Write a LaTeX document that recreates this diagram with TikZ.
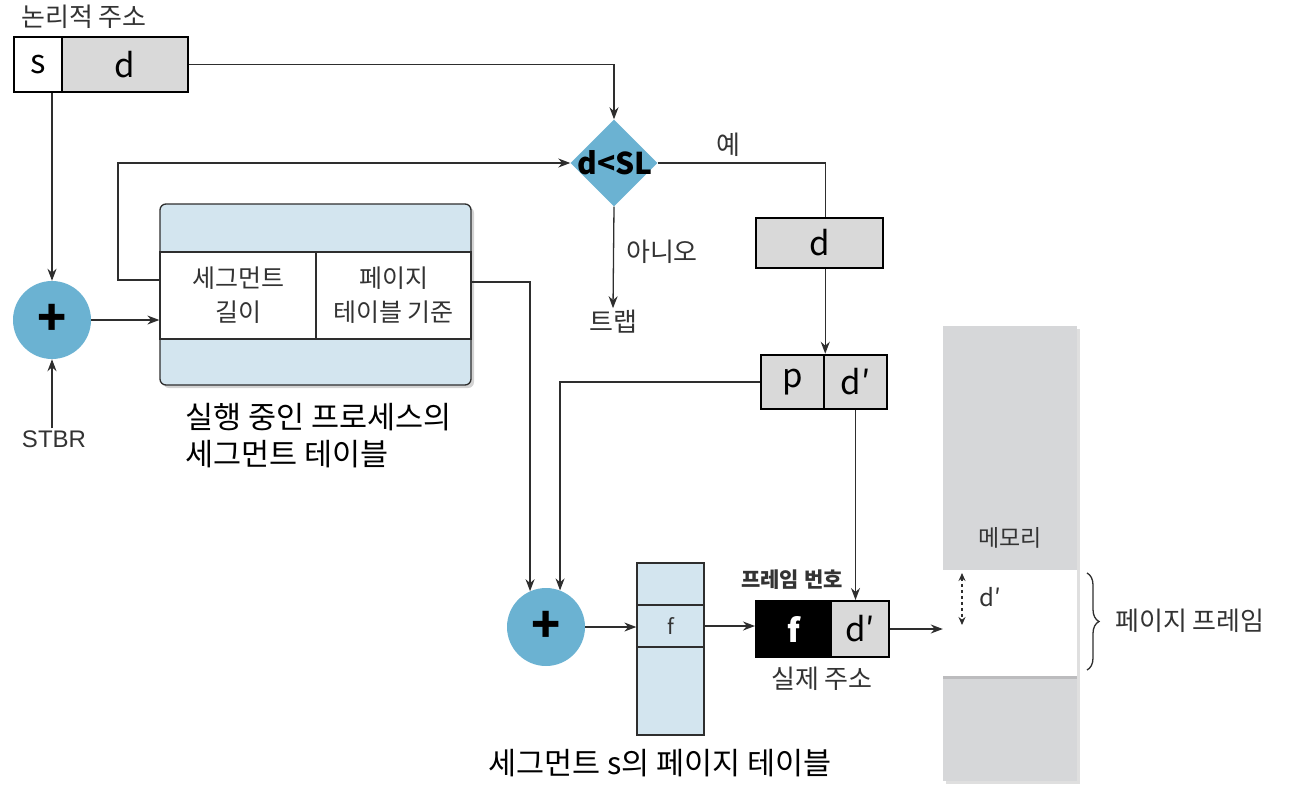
\documentclass[tikz,border=0pt]{standalone}
\usepackage{fontspec}
\setmainfont{Noto Sans CJK KR}
\newfontfamily\arialf{Liberation Sans}
\usetikzlibrary{arrows.meta,shapes.geometric,shadows,decorations.pathreplacing,calc}
\definecolor{adderblue}{HTML}{6BB2D2}
\definecolor{tabblue}{HTML}{D3E5EF}
\definecolor{boxgray}{HTML}{D9D9D9}
\definecolor{memgray}{HTML}{D6D7D9}
\definecolor{txt}{HTML}{333333}
\definecolor{ln}{HTML}{2E2E2E}
\begin{document}
\begin{tikzpicture}[x=1pt,y=-1pt,
  conn/.style={draw=ln, line width=1.3pt},
  arr/.style={conn, -{Stealth[length=12pt,width=9pt]}},
  lbl/.style={text=txt, inner sep=2pt, font=\fontsize{26}{30}\selectfont},
  letter/.style={font=\fontsize{33}{36}\selectfont, text=black},
  gbox/.style={draw=black, line width=2.5pt, fill=boxgray, inner sep=0pt, letter},
  wbox/.style={draw=black, line width=2.5pt, fill=white, inner sep=0pt, letter},
  adder/.style={circle, fill=adderblue, minimum size=78pt, inner sep=0pt,
    font=\bfseries\fontsize{48}{48}\selectfont},
  cellbox/.style={draw=ln, line width=1.3pt, fill=white, inner sep=0pt, align=center,
    text=txt, font=\fontsize{25}{34}\selectfont},
]
\useasboundingbox (0,0) rectangle (1307,793);

% logical address
\node[lbl] (lab) at (84,17) {논리적 주소};
\node[wbox, minimum width=48pt, minimum height=55pt] (s) at (38,64.5) {s};
\node[gbox, minimum width=126pt, minimum height=55pt] (d) at (125,64.5) {d};

% decision diamond
\node[diamond, fill=adderblue, minimum width=87pt, minimum height=87pt, inner sep=0pt] (dia) at (614,163) {};
\node[font=\bfseries\fontsize{30}{32}\selectfont, text=black, inner sep=0pt] (dsl) at (615,163) {d<SL};
\draw[arr] (d.east) -| (dia.north);

\node[lbl] (yes) at (728,145) {예};
\node[lbl] (no) at (662,252) {아니오};
\node[lbl] (trap) at (613,322) {트랩};
\draw[arr] (dia.south) -- (trap.north);

% offset d box
\node[gbox, minimum width=127pt, minimum height=50pt] (d2) at (819.5,243) {d};
% p | d' box
\node[gbox, minimum width=63pt, minimum height=54pt] (p) at (792.5,382) {p};
\node[gbox, minimum width=63pt, minimum height=54pt] (dp) at (855.5,382) {d′};
\draw[conn] (dia.east) -| (p.north east |- d2.north);
\draw[arr] (p.north east |- d2.south) -- (p.north east);

% segment table
\node[draw=ln, line width=1.3pt, rounded corners=6pt, fill=tabblue, minimum width=311pt, minimum height=181pt,
  drop shadow={shadow xshift=3pt, shadow yshift=-3pt, opacity=0.35}] (segtab) at (315.5,294.5) {};
\node[cellbox, minimum width=156pt, minimum height=87pt] (seglen) at (238,295.5) {세그먼트\\길이};
\node[cellbox, minimum width=155pt, minimum height=87pt] (ptb) at (393.5,295.5) {페이지\\테이블 기준};
\node[inner sep=0pt, font=\fontsize{30.5}{37}\selectfont, text=black, align=left, anchor=north west] (cap) at (185,403) {실행 중인 프로세스의\\세그먼트 테이블};

\coordinate (lenout) at (160,280);
\draw[arr] (lenout) -- ++(-42,0) |- (dia.west);

% first adder
\node[adder] (plus1) at (52,320) {+};
\node[inner sep=2pt, text=txt, font=\arialf\fontsize{24}{26}\selectfont] (stbr) at (54,439) {STBR};
\draw[arr] (s.south -| plus1.north) -- (plus1.north);
\draw[arr] (stbr.north -| plus1.south) -- (plus1.south);
\draw[arr] (plus1.east) -- (plus1.east -| segtab.west);

% second adder
\node[adder] (plus2) at (546,627) {+};
\coordinate (ptbout) at (471,282);
\draw[arr] (ptbout) -| (plus2.114);
\draw[arr] (p.west) -| (plus2.69);

% page table of segment s
\node[draw=ln, line width=1.3pt, fill=tabblue, minimum width=67pt, minimum height=172pt, inner sep=0pt] (pt) at (670.5,649) {};
\node[draw=ln, line width=1.3pt, fill=tabblue, minimum width=67pt, minimum height=42pt, inner sep=0pt,
  text=txt, font=\fontsize{21}{22}\selectfont] (ptf) at (670.5,626) {f};
\node[inner sep=0pt, text=black, font=\fontsize{30.5}{34}\selectfont] (ptcap) at (660,763) {세그먼트 s의 페이지 테이블};
\draw[arr] (plus2.east) -- (plus2.east -| pt.west);

% physical address
\node[draw=black, line width=2pt, fill=black, minimum width=75pt, minimum height=56pt, inner sep=0pt,
  text=white, font=\bfseries\fontsize{32}{34}\selectfont] (fcell) at (793.5,629) {f};
\node[draw=black, line width=2pt, fill=boxgray, minimum width=58pt, minimum height=56pt, inner sep=0pt, letter] (dcell) at (860,629) {d′};
\node[inner sep=0pt, text=txt, font=\bfseries\fontsize{21}{24}\selectfont] (fnum) at (792,580) {프레임 번호};
\node[lbl, font=\fontsize{26}{30}\selectfont] (phys) at (822,679) {실제 주소};
\draw[arr] (ptf.east) -- (ptf.east -| fcell.west);
\draw[arr] (dp.south) -- (dp.south |- dcell.north);

% memory
\node[fill=memgray, minimum width=134pt, minimum height=455pt, inner sep=0pt,
  drop shadow={shadow xshift=3pt, shadow yshift=-3pt, opacity=0.25}] (mem) at (1010,553.5) {};
\node[fill=white, minimum width=134pt, minimum height=106pt, inner sep=0pt,
  drop shadow={shadow xshift=0pt, shadow yshift=-3pt, opacity=0.3}] (frame) at (1010,623) {};
\node[lbl, font=\fontsize{23}{26}\selectfont] (memlbl) at (1010,538) {메모리};
\coordinate (dtop) at (962,573);
\coordinate (dbot) at (962,625);
\draw[conn, line width=1.2pt, dashed, {Stealth[length=8pt,width=7pt]}-{Stealth[length=8pt,width=7pt]}] (dtop) -- (dbot);
\node[lbl, font=\fontsize{24}{26}\selectfont] (dlbl) at (990,597) {d′};
\draw[arr] (dcell.east) -- (dcell.east -| mem.west);
\coordinate (brt) at (1087,573);
\coordinate (brb) at (1087,670);
\draw[conn, decorate, decoration={brace, amplitude=12pt}] (brt) -- (brb);
\node[lbl, font=\fontsize{26}{30}\selectfont] (pframe) at (1190,621) {페이지 프레임};
\end{tikzpicture}
\end{document}
